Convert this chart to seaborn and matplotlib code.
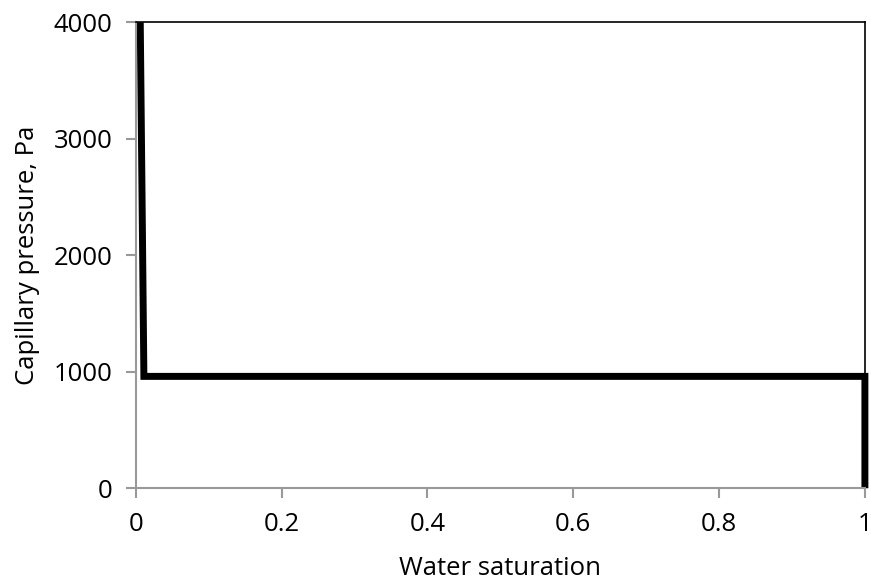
import pandas as pd
import matplotlib
matplotlib.use("Agg")
import matplotlib.pyplot as plt
import seaborn as sns

# curve points
water_saturation = [0.006, 0.011, 1.0, 1.0]
capillary_pressure = [4000, 960, 960, 0]

df = pd.DataFrame({"sw": water_saturation, "pc": capillary_pressure})

sns.set_style("white")
plt.rcParams['font.family'] = ['Open Sans', 'DejaVu Sans']
plt.rcParams['text.color'] = 'black'
plt.rcParams['axes.labelcolor'] = 'black'

fig = plt.figure(figsize=(8.71, 5.84), dpi=100)
ax = fig.add_axes([0.156, 0.164, 0.837, 0.798])

sns.lineplot(data=df, x="sw", y="pc", sort=False, estimator=None,
             color="black", linewidth=5, ax=ax, clip_on=False,
             solid_joinstyle="miter", solid_capstyle="butt")

ax.set_xlim(0, 1)
ax.set_ylim(0, 4000)
ax.set_xticks([0, 0.2, 0.4, 0.6, 0.8, 1])
ax.set_xticklabels(["0", "0.2", "0.4", "0.6", "0.8", "1"])
ax.set_yticks([0, 1000, 2000, 3000, 4000])

ax.set_xlabel("Water saturation", fontsize=18.5, labelpad=14)
ax.set_ylabel("Capillary pressure, Pa", fontsize=18.5, labelpad=10)

for side in ["left", "bottom"]:
    ax.spines[side].set_color("#999999")
    ax.spines[side].set_linewidth(1.5)
for side in ["top", "right"]:
    ax.spines[side].set_color("black")
    ax.spines[side].set_linewidth(1.2)

ax.tick_params(axis="both", which="major", direction="out", length=7,
               width=1.5, color="#999999", labelcolor="black",
               labelsize=18.5, pad=10)
ax.tick_params(left=True, bottom=True)

fig.savefig("out.png", dpi=100)
